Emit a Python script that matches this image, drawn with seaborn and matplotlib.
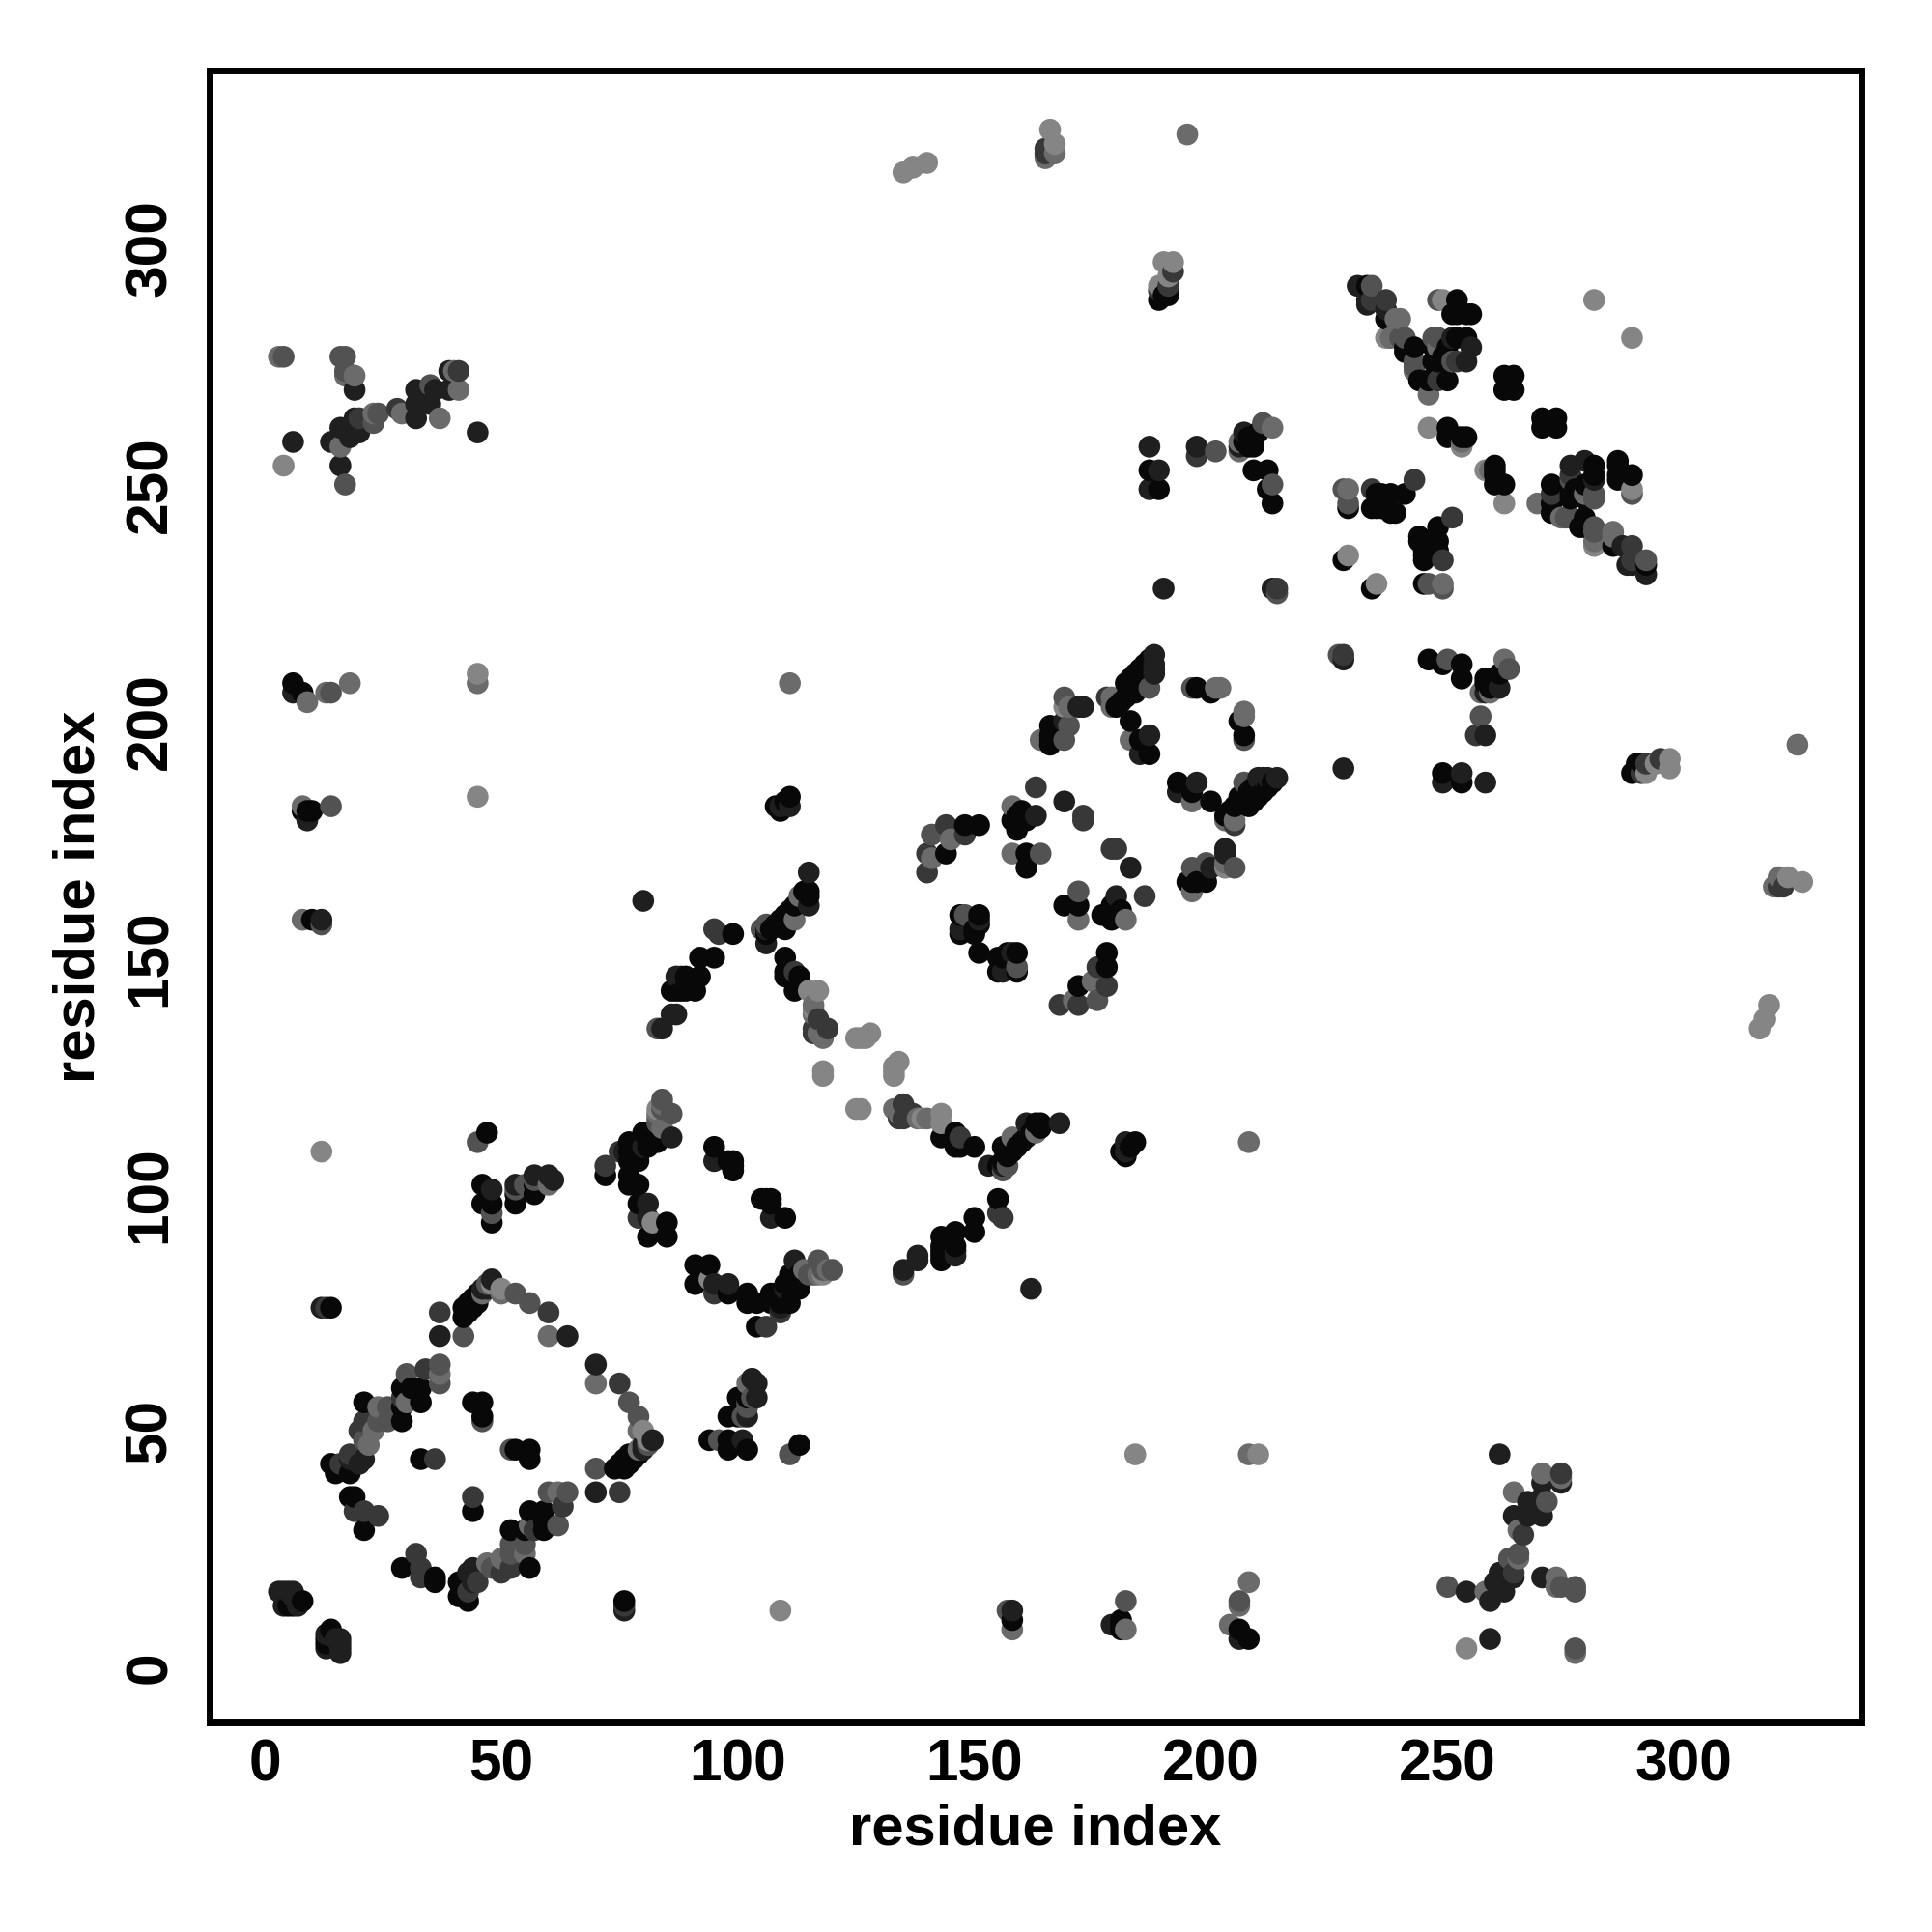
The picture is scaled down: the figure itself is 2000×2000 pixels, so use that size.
import matplotlib
matplotlib.use("Agg")
import matplotlib.pyplot as plt
import pandas as pd
import seaborn as sns

# residue contacts (i < j), grouped by shade; the map is symmetric
contacts_g03 = [(5,13),(6,13),(8,14),(14,43),(15,41),(18,41),(21,56),(29,52),(29,55),(29,59),(31,59),(33,56),(33,59),(33,44),
 (44,56),(46,56),(46,53),(18,36),(19,36),(21,29),(14,76),(42,74),(42,76),(43,76),(43,75),(44,78),(45,79),(43,77),(44,76),(45,77),
 (80,113),(77,111),(77,109),(79,107),(77,107),(72,104),(77,104),(79,98),(85,94),(81,91),(95,110),(99,107),(99,105),(99,106),(94,85),
 (105,99),(107,98),(110,95),(46,98),(47,113),(48,94),(48,98),(53,98),(100,57),(102,57),(46,102),(53,100),(79,102),(77,102),
 (91,81),(91,85),(94,85),(79,98),(79,102),(77,104),(81,111),(79,110),(83,111),(81,113),(83,113),(81,110),(79,108),
 (112,143),(110,147),(150,95),(92,150),(92,146),(87,143),(89,146),(88,143),(91,143),(95,150),(99,155),(86,143),(89,144),(91,145),(89,143),
 (106,155),(110,156),(108,157),(109,158),(110,159),(112,161),(113,162),(114,164),(115,163),(115,164),(107,156),(111,160),
 (111,184),(109,181),(108,182),(110,183),(110,150),(110,146),(113,146),
 (144,172),(161,169),(161,172),(159,177),(161,179),(160,181),(159,180),(158,179),(169,161),(172,161),
 (148,178),(144,172),(147,159),(151,159),(150,156),(150,155),(151,151),(155,150),(159,151),(159,147),(151,157),(147,155),(151,178),
 (166,195),(166,196),(166,199),(166,197),(183,200),(185,196),(187,193),(180,203),(182,205),(182,208),(184,210),(185,208),(183,207),(184,206),(181,204),(186,209),
 (197,207),(200,206),(197,207),(187,193),(183,200),(183,207),(183,209),(184,209),(185,211),(186,212),(187,213),
 (187,253),(189,249),(209,253),(212,253),(213,246),(212,249),(208,258),(209,258),(207,259),(208,260),(209,259),(210,261),(211,262),
 (233,292),(237,285),(241,278),(243,279),(244,272),(246,272),(250,272),(247,276),(247,279),(252,289),(254,281),(255,286),(252,286),(248,276),(250,276),(250,279),(249,277),
 (262,273),(264,273),(264,270),(262,270),(250,262),(250,260),(253,260),(254,260),(252,260),(234,245),(235,245),(236,245),(238,248),(236,248),(238,244),(241,248),(235,248),(239,244),
 (228,234),(234,228),(245,229),(248,238),(244,238),(252,289),(254,286),(251,286),(285,237),(270,264),(273,262),(281,252),(279,250),(272,250),(272,246),(276,248),(279,243),(279,241),(272,244),
 (9,181),(10,181),(8,181),(10,158),(181,10),(8,206),(6,208)]

contacts_g12 = [(3,16),(4,16),(5,16),(6,15),(7,13),(6,16),(4,13),(18,44),(20,43),(21,44),(33,44),(21,29),(64,70),(37,70),(12,76),(19,270),
 (6,259),(16,254),(14,259),(16,262),(18,260),(19,264),(20,261),(32,270),(32,267),(32,264),(35,267),(36,270),(39,270),(39,274),(45,261),
 (48,82),(46,80),(47,80),(80,110),(83,111),(86,112),(95,107),(81,98),(81,95),(83,113),(109,76),(105,99),(107,99),(102,53),(48,101),(61,103),(60,104),(104,57),
 (143,112),(147,110),(153,106),(156,106),(115,161),(115,168),(109,182),(111,182),(147,156),(151,158),(80,162),(84,135),(87,138),(86,138),(88,146),(146,87),(146,92),
 (150,92),(178,151),(187,258),(197,258),(190,228),(188,214),(187,213),(188,212),(188,210),(173,203),(169,183),(163,180),(169,200),(172,203),
 (206,258),(207,261),(213,228),(231,292),(237,287),(233,289),(251,281),(255,279),(254,276),(276,254),(281,254),(289,252),(286,251),(285,237),(288,233),(187,258),(258,197),(185,193),(187,197),(193,187),
 (211,188),(214,188),(209,186),(207,183),(205,182),(209,183),(203,172),(203,173),(228,190),(189,253),(187,249),
 (12,158),(6,206),(9,179)]

contacts_g22 = [(14,43),(16,43),(18,45),(20,43),(20,50),(21,52),(19,33),(21,33),(24,32),(29,57),(34,63),(32,24),(21,33),(36,44),(37,70),(37,75),(60,75),(12,76),(13,76),(14,259),(41,274),(28,266),(20,264),
 (72,106),(75,109),(85,91),(95,107),(99,105),(72,104),(79,95),(104,60),(102,53),(102,46),(60,104),
 (81,95),(104,72),(106,72),(138,87),(138,86),(85,94),(143,91),(116,135),(135,119),(134,116),(137,117),(147,112),(150,110),(155,99),(156,95),(155,96),(147,112),(146,89),(143,87),
 (115,161),(147,156),(168,140),(172,140),(176,148),(178,144),(148,176),(144,178),(140,168),(150,155),(159,180),(169,183),(173,180),(173,179),(193,185),(169,200),(203,173),(178,205),(186,163),(178,151),
 (229,245),(234,249),(237,289),(234,289),(241,278),(243,251),(289,237),(289,234),(292,231),(276,252),(272,248),(272,250),(176,148),(197,256),(190,228),(228,214),(258,187),(256,197)]

contacts_g32 = [(16,43),(21,48),(24,52),(26,52),(26,55),(37,64),(37,60),(30,62),(42,70),(37,75),(56,77),(53,79),(47,81),(36,44),(46,52),(17,250),(17,277),(16,277),(17,274),(35,271),(23,263),(20,264),(28,266),(41,274),(24,265),(4,277),
 (84,120),(84,118),(86,117),(83,116),(83,115),(91,85),(95,81),(85,91),(104,60),(102,56),(53,102),(46,98),(53,101),(48,96),(57,103),(55,102),(46,102),(72,104),(98,79),(111,83),(113,83),(115,83),
 (83,135),(105,156),(106,157),(135,119),(147,112),(150,110),(147,159),(155,96),(148,159),(172,164),(147,155),(159,148),(176,141),(178,144),(148,159),(164,172),(196,169),(205,169),(187,197),(169,196),(169,205),(170,199),(187,207),
 (8,206),(6,206),(14,206),(14,182),(12,157),(10,158),(9,181),(196,185),(193,185),(197,187),(207,187),(205,178),(207,196),(214,227),(197,256),(201,257),(213,250),(211,263),(189,253),(229,245),(234,292),(234,289),(241,281),(243,275),(248,281),(251,276),(254,276),
 (243,251),(251,243),(228,249),(246,229),(249,228),(289,248),(281,247),(281,240),(276,243),(272,248),(292,234),(257,201),(263,211),(250,213),(253,189),(45,111),(80,162)]

contacts_g42 = [(23,50),(22,47),(24,55),(30,56),(30,62),(37,62),(46,79),(50,79),(60,70),(75,60),(84,119),(83,117),(95,79),(98,81),(104,57),(102,60),(48,101),(98,46),(95,81),(114,84),(117,86),(118,84),(120,84),
 (16,258),(23,265),(29,265),(37,264),(19,273),(41,270),(3,277),(40,274),(17,273),(133,118),(134,117),(138,116),(140,116),(140,168),(141,171),(163,113),(112,158),(169,205),(170,203),(141,176),(175,145),(172,140),(182,158),(196,164),(199,170),(205,169),(111,208),
 (45,208),(13,206),(9,204),(18,208),(8,158),(8,182),(196,183),(179,205),(179,203),(203,179),(183,196),(202,207),(201,207),(206,257),(206,259),(211,263),(213,262),(228,213),(246,269),(243,276),(248,279),(238,281),(240,285),(229,249),(228,249),
 (246,229),(257,206),(262,270),(253,259),(269,246),(274,243),(276,243),(279,247),(281,240),(289,248),(285,240),(285,239),(195,324),(165,319),(167,320),(158,172)]

contacts_g52 = [(4,254),(12,109),(45,210),(45,184),(50,80),(48,81),(111,45),(109,12),(143,117),(143,115),(118,125),(118,126),(125,133),(126,133),(127,133),(128,134),(115,143),(117,143),(116,139),(117,137),
 (82,94),(79,102),(81,98),(83,118),(102,79),(101,48),(45,111),(135,316),(137,317),(140,318),(163,186),(186,163),(203,169),(196,207),(182,158),(166,325),(167,322),(192,297),(190,297),(189,292),(191,294),
 (184,45),(45,184),(45,208),(45,210),(207,201),(201,207),(213,262),(229,235),(235,229),(249,229),(213,228),(214,228),(248,289),(249,289),(237,281),(246,262),(281,289),(289,249),(262,246),(246,262),(281,237),(258,253),(285,239),(243,275),(233,289),
 (16,258),(37,264),(29,265),(41,270),(19,273),(3,277),(133,125),(133,127),(134,128),(133,126),(179,205),(262,213),(257,206),(253,259)]

extra_g03 = [(189,289),(191,290),(190,290),(191,291)]
extra_g22 = [(191,292),(189,291),(165,320),(165,321),(192,295)]

shades = {"0.03": contacts_g03 + extra_g03, "0.12": contacts_g12, "0.22": contacts_g22 + extra_g22,
          "0.32": contacts_g32, "0.42": contacts_g42, "0.52": contacts_g52}

tick_values = [0, 50, 100, 150, 200, 250, 300]
axis_label = "residue index"

rows = []
for shade, pairs in shades.items():
    for a, b in pairs:
        rows.append((a, b, shade))
        rows.append((b, a, shade))
df = pd.DataFrame(rows, columns=["x", "y", "shade"]).drop_duplicates(["x", "y"]).sort_values(["x", "y"])

sns.set_theme(style="white")
plt.rcParams["font.family"] = ["Liberation Sans", "DejaVu Sans"]
fig = plt.figure(figsize=(10, 10), dpi=200, facecolor="white")
ax = fig.add_axes([0.1085, 0.1085, 0.855, 0.855])
sns.scatterplot(data=df, x="x", y="y", hue="shade", palette={k: k for k in shades},
                s=66, linewidth=0, legend=False, ax=ax)
ax.set_xlim(-11.64, 337.5)
ax.set_ylim(-11.64, 337.5)
ax.set_xticks(tick_values)
ax.set_yticks(tick_values)
ax.tick_params(axis="x", length=4.5, width=1.8, color="black", labelsize=21.8, labelcolor="black", pad=1.5)
ax.tick_params(axis="y", length=4.5, width=1.8, color="black", labelsize=21.8, labelcolor="black", pad=7)
for lab in ax.get_xticklabels() + ax.get_yticklabels():
    lab.set_fontweight("bold")
for lab in ax.get_yticklabels():
    lab.set_rotation(90)
    lab.set_va("center")
for sp in ax.spines.values():
    sp.set_linewidth(2.5)
    sp.set_color("black")
ax.set_xlabel(axis_label, fontsize=21.5, fontweight="bold", color="black", labelpad=3.5)
ax.set_ylabel(axis_label, fontsize=21.5, fontweight="bold", color="black", labelpad=6.5)
fig.savefig("out.png", dpi=200, facecolor="white")
